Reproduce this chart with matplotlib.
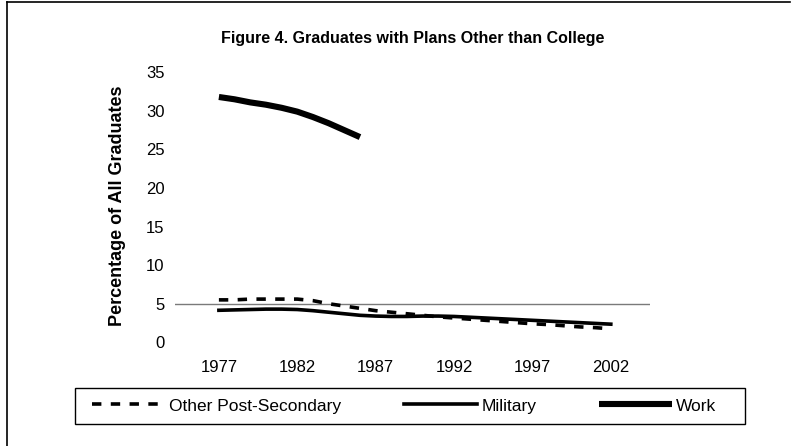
import matplotlib
matplotlib.use("Agg")
import matplotlib.pyplot as plt
from matplotlib.lines import Line2D
from matplotlib.patches import Rectangle

plt.rcParams['font.family'] = ['Liberation Sans', 'DejaVu Sans']

years = list(range(1977, 2003))
work_years = list(range(1977, 1987))
work = [31.8, 31.5, 31.1, 30.8, 30.4, 29.9, 29.2, 28.4, 27.5, 26.6]
other_post = [5.5, 5.5, 5.6, 5.6, 5.6, 5.6, 5.4, 5.0, 4.7, 4.4, 4.1, 3.9, 3.7,
              3.5, 3.3, 3.15, 3.0, 2.85, 2.7, 2.55, 2.4, 2.3, 2.15, 2.0, 1.9, 1.75]
military = [4.15, 4.2, 4.25, 4.3, 4.3, 4.25, 4.1, 3.9, 3.7, 3.5, 3.4, 3.35, 3.35,
            3.4, 3.4, 3.35, 3.25, 3.15, 3.05, 2.95, 2.85, 2.75, 2.65, 2.55, 2.45, 2.35]
xtick_years = [1977, 1982, 1987, 1992, 1997, 2002]
ytick_vals = [0, 5, 10, 15, 20, 25, 30, 35]

W, H = 796, 446
fig = plt.figure(figsize=(W / 100, H / 100), dpi=100)
ax_left, ax_right, ax_top, ax_bottom = 175, 650, 72.3, 342.3
ax = fig.add_axes([ax_left / W, 1 - ax_bottom / H, (ax_right - ax_left) / W, (ax_bottom - ax_top) / H])

l_other, = ax.plot(years, other_post, color='black', lw=2.6, dashes=(2.6, 2.6),
                   label='Other Post-Secondary')
l_mil, = ax.plot(years, military, color='black', lw=2.6, label='Military')
l_work, = ax.plot(work_years, work, color='black', lw=4.4, solid_capstyle='butt', label='Work')

ax.axhline(5, color='#7a7a7a', lw=1.0, zorder=0)

ax.set_xlim(1974.2, 2004.5)
ax.set_ylim(0, 35)
ax.set_xticks(xtick_years)
ax.set_xticklabels([str(y) for y in xtick_years], fontsize=12)
ax.set_yticks(ytick_vals)
ax.set_yticklabels([str(v) for v in ytick_vals], fontsize=12)
ax.tick_params(axis='both', length=0)
ax.tick_params(axis='x', pad=12.5)
ax.tick_params(axis='y', pad=7.5)
for s in ax.spines.values():
    s.set_visible(False)
ax.patch.set_alpha(0)

fig.text(117 / W, 1 - 206 / H, 'Percentage of All Graduates', rotation=90,
         ha='center', va='center', fontsize=13, fontweight='bold')
fig.text(413 / W, 1 - 38 / H, 'Figure 4. Graduates with Plans Other than College',
         ha='center', va='center', fontsize=11.5, fontweight='bold')

# legend box
lx0, lx1, ly0, ly1 = 75, 745, 388, 424
fig.add_artist(Rectangle((lx0 / W, 1 - ly1 / H), (lx1 - lx0) / W, (ly1 - ly0) / H,
                         transform=fig.transFigure, facecolor='white',
                         edgecolor='black', lw=1.0, zorder=1))
leg = fig.legend(handles=[l_other, l_mil, l_work], loc='center left',
                 bbox_to_anchor=(92 / W, 1 - 406 / H), ncol=3, frameon=False,
                 fontsize=12.5, handlelength=4.2, handletextpad=0.25,
                 columnspacing=3.6, borderpad=0.0, borderaxespad=0.0)
leg.set_zorder(2)

# outer border (top and left)
fig.add_artist(Line2D([7 / W, 7 / W], [0, 1 - 2 / H], color='black', lw=1.2,
                      transform=fig.transFigure))
fig.add_artist(Line2D([7 / W, 790 / W], [1 - 2 / H, 1 - 2 / H], color='black', lw=1.2,
                      transform=fig.transFigure))

fig.savefig('out.png', dpi=100)
